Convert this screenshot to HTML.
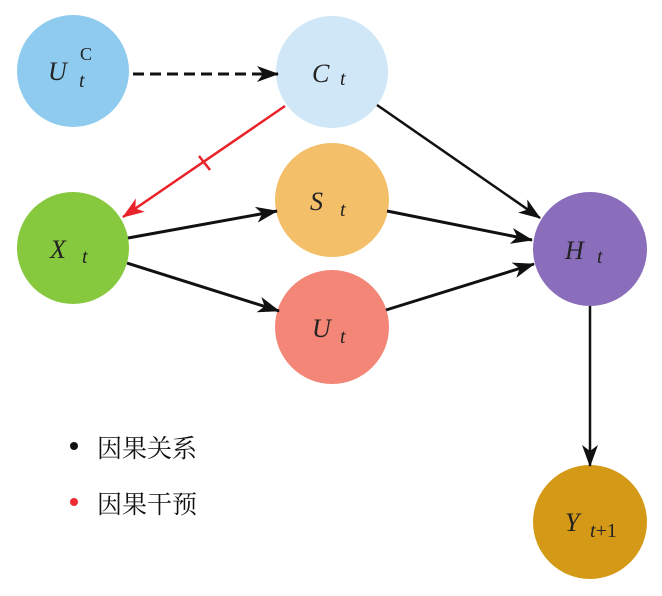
<!DOCTYPE html>
<html><head><meta charset="utf-8"><style>
html,body{margin:0;padding:0;background:#fff;}
svg{display:block;}
.lab{font-family:"Liberation Serif",serif;font-style:italic;font-size:26px;fill:#222;}
.sub{font-family:"Liberation Serif",serif;font-style:italic;font-size:20px;fill:#222;}
.cn{font-family:"Liberation Serif","Noto Serif CJK SC","Noto Sans CJK SC",serif;font-size:25px;fill:#111;}
</style></head><body>
<svg width="662" height="596" viewBox="0 0 662 596" xmlns="http://www.w3.org/2000/svg">
<defs>
<marker id="ab2" markerWidth="22" markerHeight="16" refX="21" refY="8" orient="auto" markerUnits="userSpaceOnUse" viewBox="0 0 22 16">
<path d="M0,0 L22,8 L0,16 L6,8 Z" fill="#111"/></marker>
<marker id="ar" markerWidth="22" markerHeight="16" refX="21" refY="8" orient="auto" markerUnits="userSpaceOnUse" viewBox="0 0 22 16">
<path d="M0,0 L22,8 L0,16 L6,8 Z" fill="#e8232a"/></marker>
</defs>
<circle cx="73" cy="71" r="56" fill="#8ecbef"/>
<circle cx="332" cy="72" r="56" fill="#cfe7f7"/>
<circle cx="73" cy="248" r="56" fill="#86c83e"/>
<circle cx="332" cy="200" r="57" fill="#f4bf69"/>
<circle cx="332" cy="327" r="57" fill="#f38677"/>
<circle cx="590" cy="249" r="57" fill="#8b6ebb"/>
<circle cx="590" cy="522" r="57" fill="#d49a17"/>

<line x1="133" y1="74" x2="278" y2="74" stroke="#111" stroke-width="3" stroke-dasharray="11,6" marker-end="url(#ab2)"/>
<line x1="285" y1="106" x2="123" y2="217" stroke="#e8232a" stroke-width="2.5" marker-end="url(#ar)"/>
<line x1="199" y1="156" x2="210" y2="170" stroke="#e8232a" stroke-width="2.5"/>
<line x1="377" y1="105" x2="540" y2="218" stroke="#111" stroke-width="2.5" marker-end="url(#ab2)"/>
<line x1="387" y1="211" x2="532" y2="240" stroke="#111" stroke-width="3" marker-end="url(#ab2)"/>
<line x1="386" y1="310" x2="534" y2="264" stroke="#111" stroke-width="3" marker-end="url(#ab2)"/>
<line x1="128" y1="238" x2="277" y2="211" stroke="#111" stroke-width="3" marker-end="url(#ab2)"/>
<line x1="127" y1="263" x2="279" y2="311" stroke="#111" stroke-width="3" marker-end="url(#ab2)"/>
<line x1="590" y1="306" x2="590" y2="466" stroke="#111" stroke-width="2.5" marker-end="url(#ab2)"/>

<text x="48" y="80" class="lab">U</text><text x="79" y="87" class="sub">t</text>
<text x="80" y="60" font-family="Liberation Serif" font-size="18" fill="#222">C</text>
<text x="312" y="82" class="lab">C</text><text x="340" y="85" class="sub">t</text>
<text x="50" y="258" class="lab">X</text><text x="82" y="263" class="sub">t</text>
<text x="310" y="210" class="lab">S</text><text x="340" y="216" class="sub">t</text>
<text x="312" y="337" class="lab">U</text><text x="340" y="343" class="sub">t</text>
<text x="565" y="259" class="lab">H</text><text x="597" y="263" class="sub">t</text>
<text x="565" y="531" class="lab">Y</text><text x="590" y="537" font-family="Liberation Serif" font-size="20" fill="#222"><tspan font-style="italic">t</tspan>+1</text>

<circle cx="74" cy="446" r="4" fill="#111"/>
<text x="97" y="457" class="cn">因果关系</text>
<circle cx="74" cy="502" r="4" fill="#ef2a30"/>
<text x="97" y="513" class="cn">因果干预</text>
</svg>
</body></html>
